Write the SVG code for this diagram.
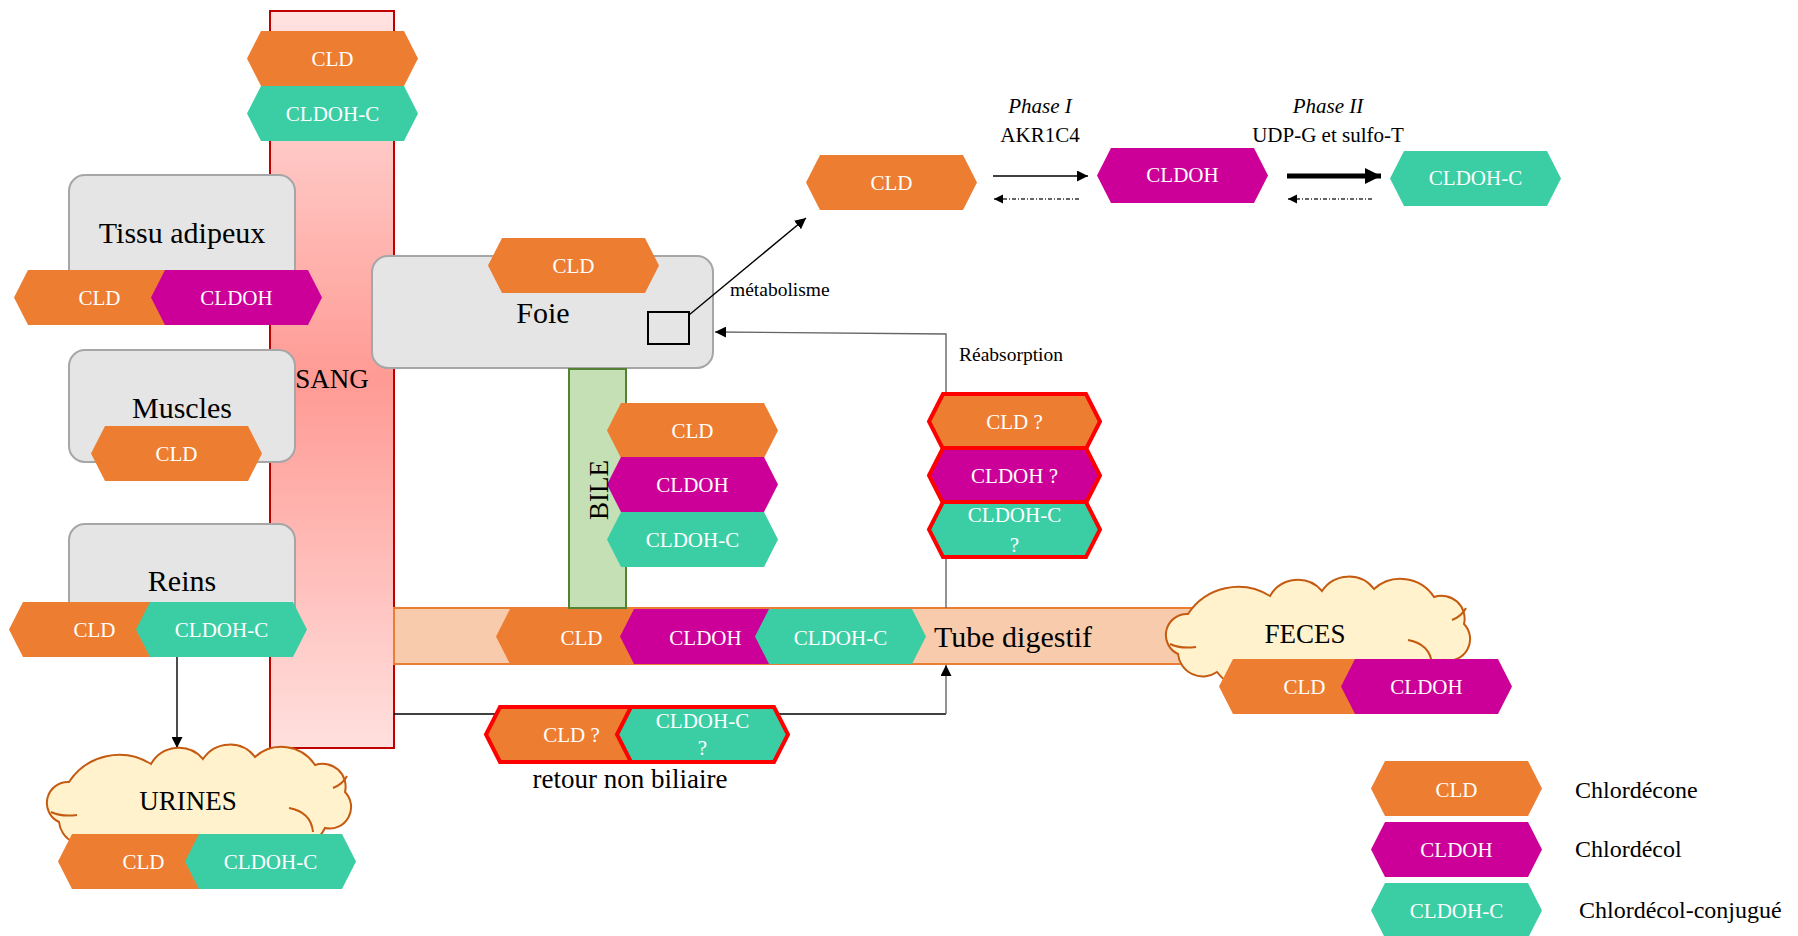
<svg xmlns="http://www.w3.org/2000/svg" xmlns:xlink="http://www.w3.org/1999/xlink" width="1798" height="936" viewBox="0 0 1798 936">
<style>
.o{fill:#ED7D31}
.m{fill:#CC0099}
.t{fill:#3BCEA5}
.red{stroke:#FF0000;stroke-width:4;stroke-linejoin:miter}
.box{fill:#E5E5E5;stroke:#A6A6A6;stroke-width:2}
.hl{font-family:"Liberation Serif","Times New Roman",serif;font-size:21px;fill:#FFFFFF;text-anchor:middle}
.bx{font-family:"Liberation Serif","Times New Roman",serif;font-size:30px;fill:#000;text-anchor:middle}
.lb{font-family:"Liberation Serif","Times New Roman",serif;font-size:27px;fill:#000;text-anchor:middle}
.sm{font-family:"Liberation Serif","Times New Roman",serif;font-size:19.5px;fill:#000}
.ph{font-family:"Liberation Serif","Times New Roman",serif;font-size:21px;fill:#000;text-anchor:middle}
.lg{font-family:"Liberation Serif","Times New Roman",serif;font-size:24px;fill:#000}
.cloud{fill:#FFF2CC;stroke:#C55A11;stroke-width:2}
.cin{fill:none;stroke:#C55A11;stroke-width:2}
.ln{fill:none;stroke:#000;stroke-width:1.4}
</style>
<defs>
<linearGradient id="sangG" x1="0" y1="0" x2="0" y2="1">
<stop offset="0" stop-color="#FFE3E1"/>
<stop offset="0.5" stop-color="#FF9A94"/>
<stop offset="1" stop-color="#FFE0DE"/>
</linearGradient>
<path id="hx" d="M0,27.5 L14,0 L157,0 L171,27.5 L157,55 L14,55 Z"/>
<path id="cl" d="M26,34 A60,60 0 0 1 108,16 A32,32 0 0 1 160,11 A32,32 0 0 1 212,9 A40,40 0 0 1 272,17 A23,23 0 0 1 302,44 A21.5,21.5 0 0 1 282,80 A45,45 0 0 1 210,92 A55,55 0 0 1 130,96 A50,50 0 0 1 55,92 A25,25 0 0 1 16,74 A21,21 0 0 1 26,34 Z"/>
<marker id="ah" viewBox="0 0 10 10" refX="10" refY="5" markerWidth="11" markerHeight="11" orient="auto" markerUnits="userSpaceOnUse"><path d="M0,0 L10,5 L0,10 Z" fill="#000"/></marker>
<marker id="ahs" viewBox="0 0 10 10" refX="10" refY="5" markerWidth="9" markerHeight="10" orient="auto" markerUnits="userSpaceOnUse"><path d="M0,0 L10,5 L0,10 Z" fill="#000"/></marker>
<marker id="ahb" viewBox="0 0 10 10" refX="10" refY="5" markerWidth="17" markerHeight="16" orient="auto" markerUnits="userSpaceOnUse"><path d="M0,0 L10,5 L0,10 Z" fill="#000"/></marker>
</defs>
<rect width="1798" height="936" fill="#FFFFFF"/>

<g id="sang">
<rect x="270" y="11" width="124" height="737" fill="url(#sangG)" stroke="#C00000" stroke-width="2"/>
</g>

<g id="tube">
<rect x="394" y="608" width="840" height="56" fill="#F8CBAD" stroke="#ED7D31" stroke-width="2"/>
</g>

<g id="tissu"><rect class="box" x="69" y="175" width="226" height="135" rx="16"/></g>
<g id="muscles"><rect class="box" x="69" y="350" width="226" height="112" rx="16"/></g>
<g id="reins"><rect class="box" x="69" y="524" width="226" height="120" rx="16"/></g>
<g id="foie"><rect class="box" x="372" y="256" width="341" height="112" rx="16"/>
<rect x="648" y="312" width="41" height="32" fill="none" stroke="#000" stroke-width="2"/></g>
<g id="bile"><rect x="569" y="369" width="57" height="239" fill="#C5E0B4" stroke="#548235" stroke-width="2"/></g>

<g id="connectors">
<path class="ln" d="M177,657 V748" marker-end="url(#ah)"/>
<path class="ln" d="M689,315 L806,218" marker-end="url(#ah)"/>
<path fill="none" stroke="#666" stroke-width="1.4" d="M946,608 V334 L715,332" marker-end="url(#ah)"/>
<path class="ln" d="M394,714 H946" />
<path fill="none" stroke="#666" stroke-width="1.4" d="M946,714 V665" marker-end="url(#ah)"/>
<path class="ln" d="M993,176 H1088" marker-end="url(#ah)"/>
<path fill="none" stroke="#333" stroke-width="1.4" stroke-dasharray="4 2 1 2" d="M1079,199 H994" marker-end="url(#ahs)"/>
<path fill="none" stroke="#000" stroke-width="5" d="M1287,176 H1381" marker-end="url(#ahb)"/>
<path fill="none" stroke="#333" stroke-width="1.4" stroke-dasharray="4 2 1 2" d="M1372,199 H1288" marker-end="url(#ahs)"/>
</g>

<g id="urines">
<use href="#cl" x="43" y="748" class="cloud"/>
<path class="cin" transform="translate(43,748)" d="M246,60 Q268,64 270,84 M290,40 Q300,36 304,28 M34,67 Q18,69 8,64"/>
<text class="lb" x="188" y="810">URINES</text>
</g>
<g id="feces">
<use href="#cl" x="1162" y="580" class="cloud"/>
<path class="cin" transform="translate(1162,580)" d="M246,60 Q268,64 270,84 M290,40 Q300,36 304,28 M34,67 Q18,69 8,64"/>
<text class="lb" x="1305" y="643">FECES</text>
</g>

<g id="hex-sang">
<use href="#hx" x="247" y="31" class="o"/><text class="hl" x="332.5" y="66">CLD</text>
<use href="#hx" x="247" y="86" class="t"/><text class="hl" x="332.5" y="121">CLDOH-C</text>
</g>
<g id="hex-tissu">
<use href="#hx" x="14" y="270" class="o"/><text class="hl" x="99.5" y="305">CLD</text>
<use href="#hx" x="151" y="270" class="m"/><text class="hl" x="236.5" y="305">CLDOH</text>
</g>
<g id="hex-muscles">
<use href="#hx" x="91" y="426" class="o"/><text class="hl" x="176.5" y="461">CLD</text>
</g>
<g id="hex-reins">
<use href="#hx" x="9" y="602" class="o"/><text class="hl" x="94.5" y="637">CLD</text>
<use href="#hx" x="136" y="602" class="t"/><text class="hl" x="221.5" y="637">CLDOH-C</text>
</g>
<g id="hex-urines">
<use href="#hx" x="58" y="834" class="o"/><text class="hl" x="143.5" y="869">CLD</text>
<use href="#hx" x="185" y="834" class="t"/><text class="hl" x="270.5" y="869">CLDOH-C</text>
</g>
<g id="hex-foie">
<use href="#hx" x="488" y="238" class="o"/><text class="hl" x="573.5" y="273">CLD</text>
</g>
<g id="hex-bile">
<use href="#hx" x="607" y="403" class="o"/><text class="hl" x="692.5" y="438">CLD</text>
<use href="#hx" x="607" y="457" class="m"/><text class="hl" x="692.5" y="492">CLDOH</text>
<use href="#hx" x="607" y="512" class="t"/><text class="hl" x="692.5" y="547">CLDOH-C</text>
</g>
<g id="hex-tube">
<use href="#hx" x="496" y="609" class="o"/><text class="hl" x="581.5" y="645">CLD</text>
<use href="#hx" x="620" y="609" class="m"/><text class="hl" x="705.5" y="645">CLDOH</text>
<use href="#hx" x="755" y="609" class="t"/><text class="hl" x="840.5" y="645">CLDOH-C</text>
</g>
<g id="hex-reabs">
<use href="#hx" x="929" y="394" class="o red"/><text class="hl" x="1014.5" y="429">CLD  ?</text>
<use href="#hx" x="929" y="448" class="m red"/><text class="hl" x="1014.5" y="483">CLDOH  ?</text>
<use href="#hx" x="929" y="502" class="t red"/><text class="hl" x="1014.5" y="522">CLDOH-C</text><text class="hl" x="1014.5" y="552">?</text>
</g>
<g id="hex-retour">
<use href="#hx" x="486" y="707" class="o red"/><text class="hl" x="571.5" y="742">CLD ?</text>
<use href="#hx" x="617" y="707" class="t red"/><text class="hl" x="702.5" y="728">CLDOH-C</text><text class="hl" x="702.5" y="755">?</text>
</g>
<g id="hex-feces">
<use href="#hx" x="1219" y="659" class="o"/><text class="hl" x="1304.5" y="694">CLD</text>
<use href="#hx" x="1341" y="659" class="m"/><text class="hl" x="1426.5" y="694">CLDOH</text>
</g>
<g id="hex-metab">
<use href="#hx" x="806" y="155" class="o"/><text class="hl" x="891.5" y="190">CLD</text>
<use href="#hx" x="1097" y="148" class="m"/><text class="hl" x="1182.5" y="182">CLDOH</text>
<use href="#hx" x="1390" y="151" class="t"/><text class="hl" x="1475.5" y="185">CLDOH-C</text>
</g>
<g id="legend">
<use href="#hx" x="1371" y="761" class="o"/><text class="hl" x="1456.5" y="797">CLD</text>
<use href="#hx" x="1371" y="822" class="m"/><text class="hl" x="1456.5" y="857">CLDOH</text>
<use href="#hx" x="1371" y="883" class="t"/><text class="hl" x="1456.5" y="918">CLDOH-C</text>
<text class="lg" x="1575" y="798">Chlordécone</text>
<text class="lg" x="1575" y="857">Chlordécol</text>
<text class="lg" x="1579" y="918">Chlordécol-conjugué</text>
</g>

<g id="labels">
<text class="bx" x="182" y="243">Tissu  adipeux</text>
<text class="bx" x="182" y="418">Muscles</text>
<text class="bx" x="182" y="591">Reins</text>
<text class="bx" x="543" y="323">Foie</text>
<text class="lb" x="332" y="388">SANG</text>
<text class="lb" transform="translate(608,490) rotate(-90)" x="0" y="0">BILE</text>
<text class="bx" x="934" y="647" style="text-anchor:start">Tube digestif</text>
<text class="sm" x="730" y="296">métabolisme</text>
<text class="sm" x="959" y="361">Réabsorption</text>
<text class="lb" x="630" y="788">retour non biliaire</text>
<text class="ph" x="1040" y="113" font-style="italic">Phase I</text>
<text class="ph" x="1040" y="142">AKR1C4</text>
<text class="ph" x="1328" y="113" font-style="italic">Phase II</text>
<text class="ph" x="1328" y="142">UDP-G et sulfo-T</text>
</g>
</svg>
